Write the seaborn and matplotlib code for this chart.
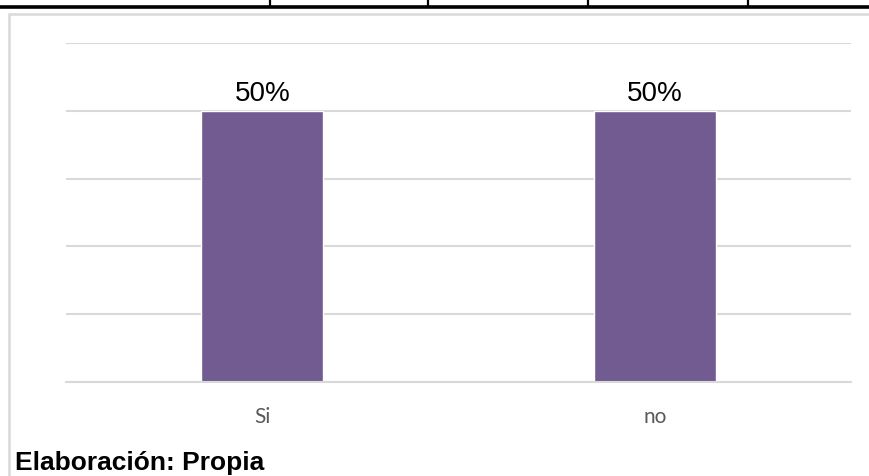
import matplotlib
matplotlib.use('Agg')
import matplotlib.pyplot as plt
import seaborn as sns
import pandas as pd
from matplotlib.lines import Line2D
from matplotlib.patches import Rectangle

# Chart data
categories = ['Si', 'no']
percentages = [50, 50]
bar_color = '#715B91'
grid_color = '#D9D9D9'

W, H = 869, 476
sns.set_theme(style='white')
plt.rcParams['font.family'] = ['Liberation Sans', 'DejaVu Sans']

fig = plt.figure(figsize=(W / 100, H / 100), dpi=100)
ax = fig.add_axes([66 / W, 1 - 382 / H, (851 - 66) / W, (382 - 43) / H])

df = pd.DataFrame({'respuesta': categories, 'porcentaje': percentages})
sns.barplot(data=df, x='respuesta', y='porcentaje', color=bar_color,
            saturation=1, width=0.31, ax=ax)

# Excel-style value axis: 0 to 62.5 with 12.5 steps (hidden labels)
ax.set_xlim(-0.5, 1.5)
ax.set_ylim(0, 62.5)
ax.set_yticks([0, 12.5, 25, 37.5, 50, 62.5])
ax.set_yticklabels([])
ax.yaxis.grid(True, color=grid_color, linewidth=1.5)
ax.set_axisbelow(True)
for side in ['top', 'right', 'left']:
    ax.spines[side].set_visible(False)
ax.spines['bottom'].set_color(grid_color)
ax.spines['bottom'].set_linewidth(1.5)
ax.tick_params(axis='both', length=0)
ax.tick_params(axis='x', pad=18, labelsize=15, labelcolor='#595959')
for lbl in ax.get_xticklabels():
    lbl.set_fontfamily(['Lato', 'DejaVu Sans'])
ax.set_xlabel('')
ax.set_ylabel('')

ax.bar_label(ax.containers[0], labels=[f'{v}%' for v in percentages],
             padding=2.5, fontsize=20, color='black')

# chart frame (cropped at right and bottom)
fig.add_artist(Rectangle((9 / W, -0.1), 1.1, 1.1 - 14 / H, transform=fig.transFigure,
                         fill=False, edgecolor=grid_color, linewidth=1.8))

# table border fragment at the top
fig.add_artist(Line2D([0, 1], [1 - 6.5 / H] * 2, transform=fig.transFigure,
                      color='black', linewidth=2.6))
for xv in [270, 428, 588, 748]:
    fig.add_artist(Line2D([xv / W] * 2, [1 - 6 / H, 1.0], transform=fig.transFigure,
                          color='black', linewidth=1.6))

fig.text(15 / W, 1 - 470 / H, 'Elaboración: Propia', fontsize=19,
         fontweight='bold', color='black', ha='left', va='baseline')

fig.savefig('out.png', dpi=100)
plt.close('all')
